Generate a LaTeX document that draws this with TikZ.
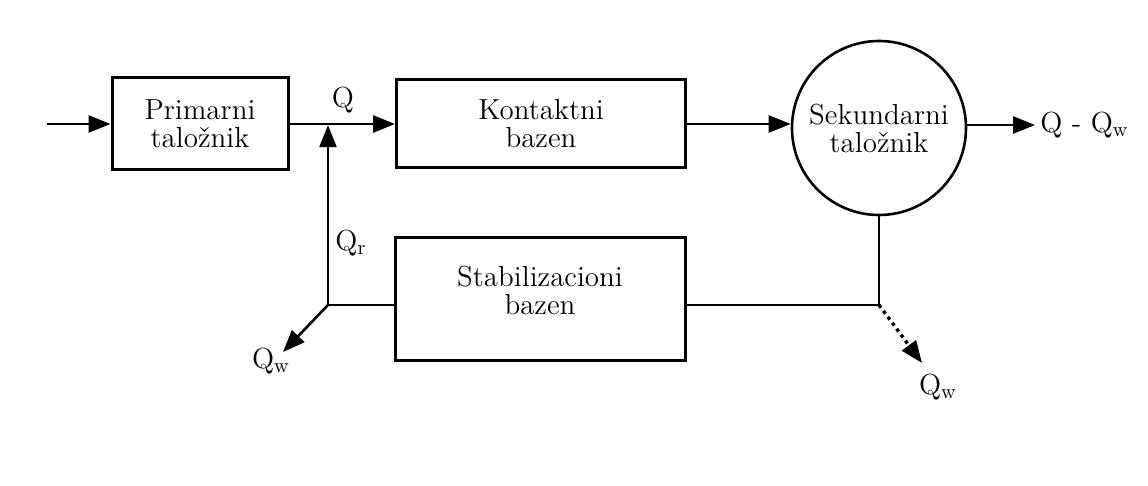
\documentclass[tikz,border=0pt]{standalone}
\usepackage{fontspec}
\usetikzlibrary{arrows.meta}
\begin{document}
\begin{tikzpicture}[
x=0.5pt, y=-0.5pt,
every node/.style={font=\fontsize{14.5}{14}\selectfont},
unit/.style={rectangle, draw=black, line width=1.5pt, align=center, inner sep=0pt},
tank/.style={circle, draw=black, line width=1.3pt, align=center, inner sep=0pt, minimum size=87pt},
flow/.style={line width=1.3pt, -{Triangle[length=11pt, width=8.5pt]}},
pipe/.style={line width=1.3pt},
waste/.style={line width=1.7pt, dotted, -{Triangle[length=11pt, width=8.5pt]}},
]
\useasboundingbox (0,0) rectangle (1148,486);
% units
\node[unit, minimum width=88pt, minimum height=46pt] (prim) at (200,124) {Primarni\\taložnik};
\node[unit, minimum width=144.5pt, minimum height=44pt] (kont) at (541,124) {Kontaktni\\bazen};
\node[tank] (sek) at (879,128) {Sekundarni\\taložnik};
\node[unit, minimum width=145pt, minimum height=61.5pt, text depth=9pt] (stab) at (540,299) {Stabilizacioni\\bazen};
% junctions and free ends
\coordinate (in) at (47,124);
\coordinate (out) at (1035,125);
\coordinate (j1) at (328,124);
\coordinate (j2) at (879,305);
\coordinate (j3) at (328,305);
\coordinate (w1) at (283,352);
\coordinate (w2) at (922,363);
% main line
\draw[flow] (in) -- (prim.west);
\draw[flow] (prim.east) -- (kont.west);
\draw[flow] (kont.east) -- (kont.east -| sek.west);
\draw[flow] (sek.east |- out) -- (out) node[right, inner sep=2pt] {Q - Q\textsubscript{w}};
\node (q) at (343,100) {Q};
% return line
\draw[pipe] (sek.south) -- (j2) -- (stab.east |- j2);
\draw[pipe] (stab.west |- j3) -- (j3);
\draw[flow] (j3) -- ([yshift=-0.6pt]j1);
\node (qr) at (351,243) {Q\textsubscript{r}};
% wasted sludge
\draw[flow] (j3) -- (w1);
\node (qw1) at (271,361) {Q\textsubscript{w}};
\draw[waste] (j2) -- (w2);
\node (qw2) at (938,387) {Q\textsubscript{w}};
\end{tikzpicture}
\end{document}
